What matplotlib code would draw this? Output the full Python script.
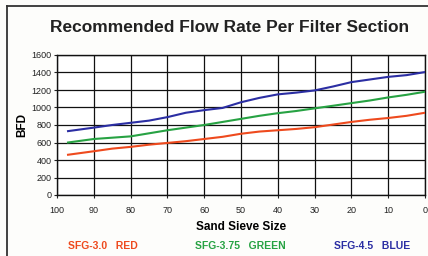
import matplotlib
matplotlib.use("Agg")
import matplotlib.pyplot as plt
from matplotlib.lines import Line2D

sieve = [97, 90, 85, 80, 75, 70, 65, 60, 55, 50, 45, 40, 35, 30, 25, 20, 15, 10, 5, 0]
red_sfg30 = [460, 500, 530, 550, 575, 595, 615, 640, 665, 700, 725, 740, 755, 775, 805, 835, 860, 880, 905, 940]
green_sfg375 = [600, 640, 655, 670, 705, 740, 770, 800, 835, 870, 905, 935, 960, 990, 1020, 1050, 1080, 1115, 1145, 1180]
blue_sfg45 = [730, 770, 800, 825, 850, 890, 940, 970, 995, 1060, 1110, 1150, 1170, 1195, 1240, 1290, 1320, 1350, 1370, 1405]

xticks = [100, 90, 80, 70, 60, 50, 40, 30, 20, 10, 0]
yticks = [0, 200, 400, 600, 800, 1000, 1200, 1400, 1600]

legend_labels = ["SFG-3.0   RED", "SFG-3.75   GREEN", "SFG-4.5   BLUE"]
colors = ["#ee4a1e", "#27a243", "#2b2ea3"]

plt.rcParams['font.family'] = ['Liberation Sans', 'DejaVu Sans']

fig = plt.figure(figsize=(4.28, 2.56), dpi=100)
fig.patch.set_facecolor("#fdfdfb")

# outer frame (left and top)
fig.add_artist(Line2D([7/428, 7/428], [0, 1 - 6/256], color="#333333", lw=1.3, transform=fig.transFigure))
fig.add_artist(Line2D([7/428, 1], [1 - 6/256, 1 - 6/256], color="#333333", lw=1.3, transform=fig.transFigure))

ax = fig.add_axes([57/428, 1 - 195/256, (425 - 57)/428, (195 - 55)/256])
ax.set_facecolor("white")

for y, c in zip([red_sfg30, green_sfg375, blue_sfg45], colors):
    ax.plot(sieve, y, color=c, lw=1.5, zorder=3)

ax.set_xlim(100, 0)
ax.set_ylim(0, 1600)
ax.set_xticks(xticks)
ax.set_yticks(yticks)
ax.set_xticklabels([str(v) for v in xticks])
ax.set_yticklabels([str(v) for v in yticks])
ax.tick_params(axis='both', labelsize=6.5, length=2, width=0.8, colors="#222222", pad=2)
ax.tick_params(axis='x', pad=6)
ax.grid(True, color="#111111", lw=0.9, zorder=1)
for s in ax.spines.values():
    s.set_color("#111111")
    s.set_linewidth(1.0)

ax.set_ylabel("BFD", fontsize=8.5, fontweight="bold", labelpad=2)
ax.set_xlabel("Sand Sieve Size", fontsize=8.5, fontweight="bold", labelpad=4)

fig.text(0.537, 1 - 27/256, "Recommended Flow Rate Per Filter Section",
         ha="center", va="center", fontsize=12.5, fontweight="bold", color="#222222")

for lab, c, x in zip(legend_labels, colors, [103/428, 240/428, 372/428]):
    fig.text(x, 1 - 246/256, lab, ha="center", va="center", fontsize=7.5,
             fontweight="bold", color=c)

fig.savefig("out.png", dpi=100, facecolor=fig.get_facecolor())
